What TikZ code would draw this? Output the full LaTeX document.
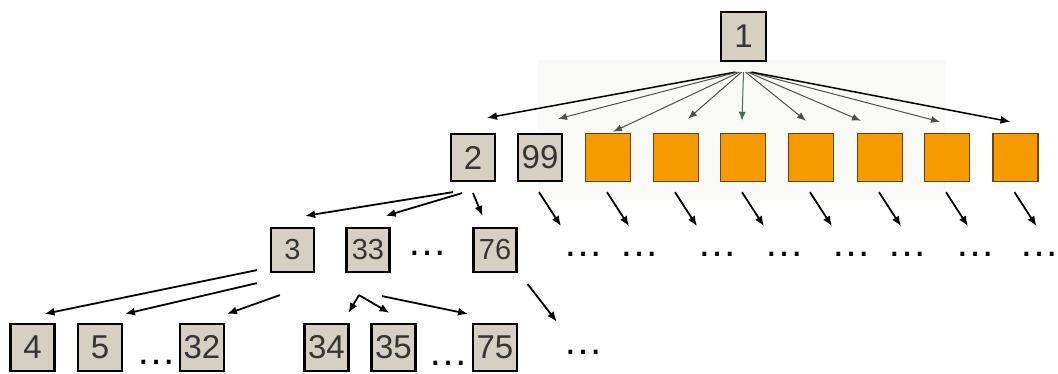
\documentclass[tikz,border=0pt]{standalone}
\usepackage{fontspec}
\setmainfont{Liberation Sans}
\usetikzlibrary{arrows.meta,calc}
\definecolor{boxfill}{HTML}{D6D0C3}
\definecolor{digit}{HTML}{353535}
\definecolor{orangefill}{HTML}{F59A00}
\definecolor{orangeedge}{HTML}{6B4500}
\definecolor{fangray}{HTML}{505050}
\definecolor{fangreen}{HTML}{4F6B4F}
\definecolor{haze}{HTML}{F9F9F7}
\begin{document}
\begin{tikzpicture}[x=1pt,y=-1pt,
  cell/.style={draw=black, line width=2.2pt, fill=boxfill, text=digit,
    inner sep=0pt, minimum width=44pt, minimum height=47pt,
    font=\fontsize{33}{33}\selectfont},
  smallcell/.style={cell, minimum width=43pt, minimum height=44pt,
    font=\fontsize{29}{29}\selectfont},
  orangecell/.style={draw=orangeedge, line width=1.4pt, fill=orangefill,
    inner sep=0pt, minimum width=45pt, minimum height=48pt},
  dots/.style={inner sep=0pt, text=black, font=\fontsize{40}{40}\selectfont},
  arr/.style={-{Latex[length=10pt,width=8pt]}, line width=1.8pt, draw=black},
  fan/.style={-{Latex[length=9pt,width=7pt]}, line width=1pt, draw=fangray},
  fanbold/.style={-{Latex[length=10pt,width=8pt]}, line width=1.5pt, draw=black}]
\useasboundingbox (0,0) rectangle (1058,374);

% faint backdrop behind the fan of the root
\fill[haze] (538,60) rectangle (946,200);

% root
\node[cell, minimum width=45pt, minimum height=49pt] (n1) at (743.5,36.5) {1};

% second level
\node[cell] (n2)  at (473,157.5) {2};
\node[cell] (n99) at (540,157.5) {99};
\node[orangecell] (o1) at (608,157.5) {};
\node[orangecell] (o2) at (676,157.5) {};
\node[orangecell] (o3) at (743,157.5) {};
\node[orangecell] (o4) at (811,157.5) {};
\node[orangecell] (o5) at (880,157.5) {};
\node[orangecell] (o6) at (947,157.5) {};
\node[orangecell] (o7) at (1015.5,157.5) {};

% third level
\node[smallcell] (n3)  at (292.5,250) {3};
\node[smallcell] (n33) at (368,250) {33};
\node[dots] (d33) at (427,253) {…};
\node[smallcell] (n76) at (495,250) {76};

% fourth level
\node[cell] (n4)  at (32.5,347.5) {4};
\node[cell] (n5)  at (100,347.5) {5};
\node[dots] (d5) at (156,362) {…};
\node[cell] (n32) at (202,347.5) {32};
\node[cell] (n34) at (326.5,347.5) {34};
\node[cell] (n35) at (393.5,347.5) {35};
\node[dots] (d35) at (448,363) {…};
\node[cell] (n75) at (495,347.5) {75};
\node[dots] (d76) at (583,352) {…};

% continuation dots under the right part of level two
\foreach \x [count=\i] in {583,639,717,784,851,907,975,1039}
  \node[dots] (r\i) at (\x,254) {…};

% fan from the root
\draw[fanbold] ($(n1.south)+(-8,10)$) -- ($(n2.north)+(14,-15)$);
\draw[fan] ($(n1.south)+(-6,10)$) -- ($(n99.north)+(18,-14)$);
\draw[fan] ($(n1.south)+(-4,10)$) -- ($(o1.north)+(5,-1)$);
\draw[fan] ($(n1.south)+(-2,10)$) -- ($(o2.north)+(12,-14)$);
\draw[fan, draw=fangreen] ($(n1.south)+(0,10)$) -- ($(o3.north)+(-1,-12)$);
\draw[fan] ($(n1.south)+(2,10)$) -- ($(o4.north)+(-5,-12)$);
\draw[fan] ($(n1.south)+(4,10)$) -- ($(o5.north)+(-19,-12)$);
\draw[fan] ($(n1.south)+(6,10)$) -- ($(o6.north)+(-7,-11)$);
\draw[fanbold] ($(n1.south)+(8,10)$) -- ($(o7.north)+(-5,-11)$);

% level two to level three
\draw[arr] ($(n2.south)+(-20,10)$) -- ($(n3.north east)+(-10,-11)$);
\draw[arr] ($(n2.south)+(-11,11)$) -- ($(n33.north east)+(-5,-11)$);
\draw[arr] ($(n2.south)+(0,11)$) -- ($(n76.north west)+(10,-11)$);
\foreach \b in {n99,o1,o2,o3,o4,o5,o6,o7}
  \draw[arr] ($(\b.south)+(-1,10)$) -- ($(\b.south)+(21,44)$);

% level three to level four
\draw[arr] ($(n3.south west)+(-13,-3)$) -- ($(n4.north)+(12,-9)$);
\draw[arr] ($(n3.south west)+(-13,10)$) -- ($(n5.north)+(25,-9)$);
\draw[arr] ($(n3.south west)+(10,22)$) -- ($(n32.north)+(25,-9)$);
\draw[arr] ($(n33.south)+(-9,22)$) -- ($(n34.north)+(22,-10)$);
\draw[arr] ($(n33.south)+(-9,22)$) -- ($(n35.north)+(-4,-10)$);
\draw[arr] ($(n33.south)+(14,23)$) -- ($(n75.north)+(-27,-9)$);
\draw[arr] ($(n76.south east)+(10,11)$) -- ($(d76.north west)+(-6,-28)$);
\end{tikzpicture}
\end{document}
